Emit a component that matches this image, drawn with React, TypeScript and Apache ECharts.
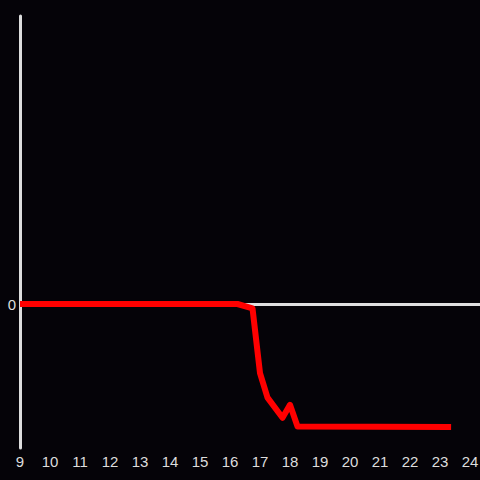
import React, { useEffect, useRef } from "react";
import * as echarts from "echarts";

const hours = [9, 16.25, 16.75, 17.0, 17.25, 17.75, 18.0, 18.25, 23.37];
const values = [0, 0, -0.03, -0.48, -0.65, -0.79, -0.7, -0.85, -0.855];
const xTicks = { min: 9, max: 24.333, interval: 1 };
const yTicks = { min: -1, max: 2, interval: 1 };

export default function App() {
  const ref = useRef<HTMLDivElement>(null);
  useEffect(() => {
    document.body.style.margin = "0";
    document.body.style.background = "#050308";
    const chart = echarts.init(ref.current!, null, { renderer: "svg" });
    const textStyle = { color: "#dddddd", fontSize: 15, fontFamily: "Liberation Sans, Arial, sans-serif" };
    chart.setOption({
      animation: false,
      backgroundColor: "#050308",
      grid: { left: 20, right: 0, top: 16, bottom: 32, containLabel: false, outerBoundsMode: "none" },
      xAxis: {
        type: "value",
        min: xTicks.min,
        max: xTicks.max,
        interval: xTicks.interval,
        axisLine: { show: false },
        axisTick: { show: false },
        splitLine: { show: false },
        axisLabel: {
          ...textStyle,
          margin: 6,
          formatter: (v: number) => (Number.isInteger(v) ? String(v) : ""),
        },
      },
      yAxis: {
        type: "value",
        min: yTicks.min,
        max: yTicks.max,
        interval: yTicks.interval,
        axisLine: { show: true, onZero: false, lineStyle: { color: "#dddddd", width: 3 } },
        axisTick: { show: false },
        splitLine: { show: false },
        axisLabel: {
          ...textStyle,
          margin: 4,
          formatter: (v: number) => (v === 0 ? "0" : ""),
        },
      },
      series: [
        {
          type: "line",
          data: hours.map((h, i) => [h, values[i]]),
          showSymbol: false,
          symbol: "none",
          z: 3,
          lineStyle: { color: "#ff0000", width: 6, cap: "butt", join: "round" },
          markLine: {
            z: 1,
            silent: true,
            symbol: "none",
            label: { show: false },
            lineStyle: { color: "#e0e0e0", width: 3, type: "solid" },
            data: [{ yAxis: 0 }],
          },
        },
      ],
    });
    return () => chart.dispose();
  }, []);
  return <div ref={ref} style={{ position: "absolute", left: 0, top: 0, width: 480, height: 480 }} />;
}
